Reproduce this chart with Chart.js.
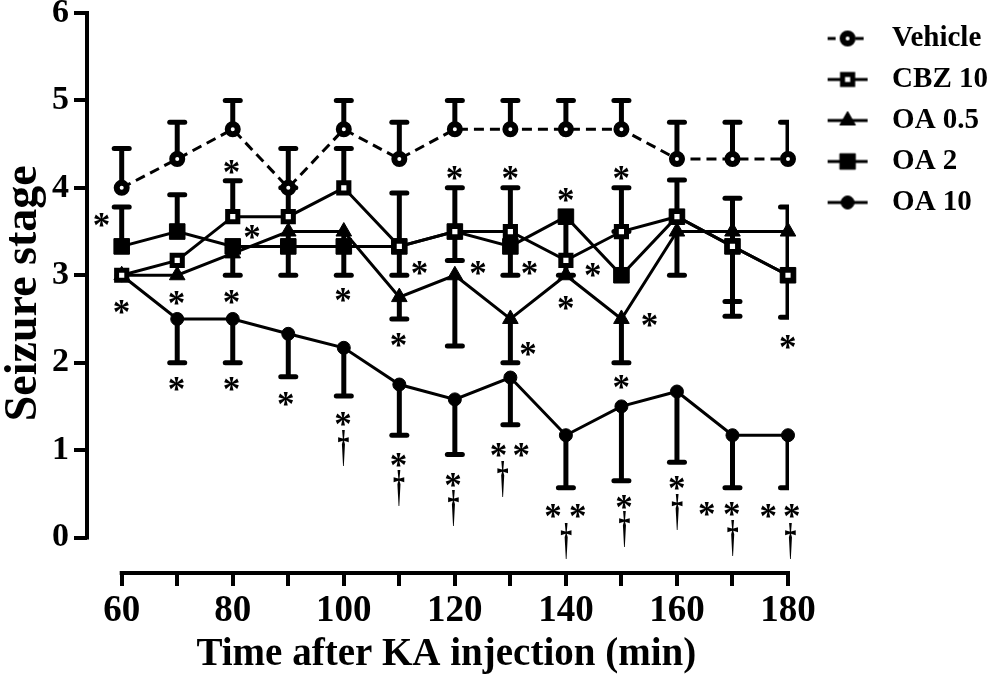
<!DOCTYPE html>
<html>
<head>
<meta charset="utf-8">
<script src="https://cdn.jsdelivr.net/npm/chart.js@4.4.1/dist/chart.umd.min.js"></script>
<style>
  html, body { margin: 0; padding: 0; background: #fff; }
  #wrap { width: 1000px; height: 676px; }
</style>
</head>
<body>
<div id="wrap"><canvas id="c" width="1000" height="676"></canvas></div>
<script>
// ---------------- data ----------------
const minutes = [60, 70, 80, 90, 100, 110, 120, 130, 140, 150, 160, 170, 180];

const vehicle     = [4.0, 4.33, 4.67, 4.0, 4.67, 4.33, 4.67, 4.67, 4.67, 4.67, 4.33, 4.33, 4.33];
const vehicleUp   = [0.45, 0.42, 0.33, 0.45, 0.33, 0.42, 0.33, 0.33, 0.33, 0.33, 0.42, 0.42, 0.42];

const cbz10       = [3.0, 3.17, 3.67, 3.67, 4.0, 3.33, 3.5, 3.5, 3.17, 3.5, 3.67, 3.33, 3.0];
const cbz10Up     = [0, 0, 0.41, 0.33, 0.45, 0.61, 0.5, 0.5, 0, 0.5, 0.42, 0.55, 0.78];
const cbz10Down   = [0, 0, 0, 0, 0, 0, 0, 0, 0, 0, 0, 0.8, 0];

const oa05        = [3.0, 3.0, 3.25, 3.5, 3.5, 2.75, 3.0, 2.5, 3.0, 2.5, 3.5, 3.5, 3.5];
const oa05Down    = [0, 0, 0.25, 0.5, 0.5, 0.25, 0.81, 0.5, 0, 0.5, 0.5, 0, 0];

const oa2         = [3.33, 3.5, 3.33, 3.33, 3.33, 3.33, 3.5, 3.33, 3.67, 3.0, 3.67, 3.33, 3.0];
const oa2Up       = [0.45, 0.42, 0, 0, 0, 0, 0, 0, 0, 0.5, 0, 0, 0];
const oa2Down     = [0, 0, 0, 0, 0, 0.33, 0.33, 0.33, 0.67, 0, 0, 0.63, 0.48];

const oa10        = [3.0, 2.5, 2.5, 2.33, 2.17, 1.75, 1.58, 1.83, 1.17, 1.5, 1.67, 1.17, 1.17];
const oa10Down    = [0, 0.5, 0.5, 0.49, 0.55, 0.58, 0.63, 0.54, 0.6, 0.85, 0.81, 0.6, 0.6];

const seriesNames = ['Vehicle', 'CBZ 10', 'OA 0.5', 'OA 2', 'OA 10'];

const xTickValues  = [60, 70, 80, 90, 100, 110, 120, 130, 140, 150, 160, 170, 180];
const xLabelValues = [60, 80, 100, 120, 140, 160, 180];
const yTickValues  = [0, 1, 2, 3, 4, 5, 6];

// significance marks: [minute, stage]
const starMarks = [
  [56.4, 3.63], [60.0, 2.64], [69.9, 2.74], [79.8, 4.24], [79.8, 2.75], [83.5, 3.50],
  [69.9, 1.76], [79.8, 1.76], [89.6, 1.58], [99.9, 2.77], [99.9, 1.35],
  [109.9, 2.26], [113.7, 3.08], [109.9, 0.89],
  [120.0, 4.17], [124.2, 3.08], [119.7, 0.66],
  [130.0, 4.17], [133.5, 3.08], [133.2, 2.16], [127.9, 1.00], [132.0, 1.00],
  [140.0, 3.92], [144.9, 3.06], [140.0, 2.68], [137.7, 0.30], [142.2, 0.30],
  [150.0, 4.17], [155.1, 2.49], [150.0, 1.78], [150.5, 0.41],
  [160.0, 0.62],
  [165.4, 0.33], [169.9, 0.33],
  [180.0, 2.24], [176.5, 0.30], [180.7, 0.30]
];
const daggerMarks = [
  [99.9, 1.03], [109.9, 0.57], [119.7, 0.34], [128.6, 0.68], [140.0, -0.03],
  [150.5, 0.10], [160.0, 0.30], [170.0, 0.0], [180.4, -0.04]
];

// ---------------- layout targets (pixel) ----------------
const X60PX = 121.7, X180PX = 788, Y0PX = 537.5, Y6PX = 13;
const FONT = '"Liberation Serif", "Times New Roman", serif';

const pts = arr => minutes.map((m, i) => ({ x: m, y: arr[i] }));

function dataset(label, arr, style, radius, bg, bw, dash) {
  return {
    label, data: pts(arr),
    borderColor: '#000', borderWidth: 3, borderDash: dash || [],
    pointStyle: style, pointRadius: radius, pointHoverRadius: radius,
    pointBackgroundColor: bg, pointBorderColor: '#000', pointBorderWidth: bw,
    tension: 0, fill: false
  };
}

const markerDefs = [
  { style: 'circle',   radius: 5,   bg: '#fff', bw: 6, dash: [10, 6] },
  { style: 'rect',     radius: 7.2, bg: '#fff', bw: 5 },
  { style: 'triangle', radius: 9,   bg: '#000', bw: 1 },
  { style: 'rect',     radius: 11,  bg: '#000', bw: 1 },
  { style: 'circle',   radius: 6.5, bg: '#000', bw: 1 }
];
const seriesData = [vehicle, cbz10, oa05, oa2, oa10];

const errorSets = [
  { mean: vehicle, up: vehicleUp, down: null },
  { mean: cbz10, up: cbz10Up, down: cbz10Down },
  { mean: oa05, up: null, down: oa05Down },
  { mean: oa2, up: oa2Up, down: oa2Down },
  { mean: oa10, up: null, down: oa10Down }
];

// marker drawing for legend samples
function drawMarker(g, m, cx, cy) {
  g.save();
  g.fillStyle = m.bg; g.strokeStyle = '#000'; g.lineWidth = m.bw; g.setLineDash([]);
  g.beginPath();
  if (m.style === 'circle') {
    g.arc(cx, cy, m.radius, 0, Math.PI * 2);
  } else if (m.style === 'rect') {
    const s = m.radius * Math.SQRT1_2;
    g.rect(cx - s, cy - s, 2 * s, 2 * s);
  } else {
    const r = m.radius;
    g.moveTo(cx, cy - r);
    g.lineTo(cx + r * Math.sin(2 * Math.PI / 3), cy - r * Math.cos(2 * Math.PI / 3));
    g.lineTo(cx + r * Math.sin(4 * Math.PI / 3), cy - r * Math.cos(4 * Math.PI / 3));
    g.closePath();
  }
  g.fill(); g.stroke();
  g.restore();
}
function legendSample(m) {
  const c = document.createElement('canvas');
  c.width = 42; c.height = 26;
  const g = c.getContext('2d');
  g.strokeStyle = '#000'; g.lineWidth = 3;
  g.setLineDash(m.dash ? [8, 6] : []);
  g.beginPath(); g.moveTo(1, 13); g.lineTo(41, 13); g.stroke();
  drawMarker(g, m, 21, 13);
  return c;
}
const samples = markerDefs.map(legendSample);

// error bars
const errorBarPlugin = {
  id: 'errorBars',
  beforeDatasetsDraw(chart) {
    const { ctx, chartArea } = chart;
    const x = chart.scales.x, y = chart.scales.y;
    const clipRight = x.getPixelForValue(180) + 1;
    ctx.save();
    ctx.beginPath();
    ctx.rect(chartArea.left, 0, clipRight - chartArea.left, chart.height);
    ctx.clip();
    ctx.strokeStyle = '#000';
    errorSets.forEach(s => {
      minutes.forEach((m, i) => {
        const px = x.getPixelForValue(m);
        const py = y.getPixelForValue(s.mean[i]);
        [[s.up, 1], [s.down, -1]].forEach(([arr, dir]) => {
          if (!arr || !arr[i]) return;
          const ey = y.getPixelForValue(s.mean[i] + dir * arr[i]);
          ctx.lineWidth = 5; ctx.lineCap = 'butt';
          ctx.beginPath(); ctx.moveTo(px, py); ctx.lineTo(px, ey); ctx.stroke();
          ctx.lineWidth = 5; ctx.lineCap = 'round';
          ctx.beginPath(); ctx.moveTo(px - 7.5, ey); ctx.lineTo(px + 7.5, ey); ctx.stroke();
        });
      });
    });
    ctx.restore();
  }
};

// axis lines (detached, Prism style)
const axisLinePlugin = {
  id: 'axisLines',
  afterDraw(chart) {
    const { ctx, chartArea } = chart;
    const x = chart.scales.x, y = chart.scales.y;
    ctx.save();
    ctx.strokeStyle = '#000'; ctx.lineWidth = 4; ctx.lineCap = 'square';
    ctx.beginPath();
    ctx.moveTo(x.getPixelForValue(xTickValues[0]), chartArea.bottom);
    ctx.lineTo(x.getPixelForValue(xTickValues[xTickValues.length - 1]), chartArea.bottom);
    ctx.moveTo(chartArea.left, y.getPixelForValue(yTickValues[0]));
    ctx.lineTo(chartArea.left, y.getPixelForValue(yTickValues[yTickValues.length - 1]));
    ctx.stroke();
    ctx.restore();
  }
};

function drawCentered(ctx, t, cx, cy, sx, sy) {
  const mt = ctx.measureText(t);
  const l = mt.actualBoundingBoxLeft, r = mt.actualBoundingBoxRight;
  const a = mt.actualBoundingBoxAscent, d = mt.actualBoundingBoxDescent;
  ctx.save();
  ctx.translate(cx, cy);
  ctx.scale(sx, sy);
  ctx.fillText(t, -(r - l) / 2, (a - d) / 2);
  ctx.restore();
}

const marksPlugin = {
  id: 'sigMarks',
  afterDatasetsDraw(chart) {
    const { ctx } = chart;
    const x = chart.scales.x, y = chart.scales.y;
    ctx.save();
    ctx.fillStyle = '#000';
    ctx.textAlign = 'left'; ctx.textBaseline = 'alphabetic';
    ctx.font = 'bold 35px ' + FONT;
    starMarks.forEach(([m, s]) => drawCentered(ctx, '*', x.getPixelForValue(m), y.getPixelForValue(s), 1, 1));
    ctx.font = 'bold 33px ' + FONT;
    daggerMarks.forEach(([m, s]) => drawCentered(ctx, '\u2020', x.getPixelForValue(m), y.getPixelForValue(s), 0.72, 1.35));
    ctx.restore();
  }
};

Chart.defaults.font.family = FONT;
Chart.defaults.color = '#000';

const chart = new Chart(document.getElementById('c'), {
  type: 'line',
  data: {
    datasets: seriesNames.map((n, i) => {
      const m = markerDefs[i];
      return dataset(n, seriesData[i], m.style, m.radius, m.bg, m.bw, m.dash);
    })
  },
  options: {
    responsive: false,
    animation: false,
    events: [],
    layout: { padding: { top: 12, right: 2, left: 0, bottom: 0 } },
    plugins: {
      tooltip: { enabled: false },
      legend: {
        position: 'right',
        align: 'start',
        labels: {
          usePointStyle: true,
          pointStyleWidth: 60,
          padding: 12,
          color: '#000',
          font: { family: FONT, size: 29, weight: 'bold' },
          generateLabels: () => seriesNames.map((n, i) => ({
            text: n, pointStyle: samples[i], fillStyle: '#000', strokeStyle: '#000',
            lineWidth: 0, hidden: false, datasetIndex: i, fontColor: '#000'
          }))
        }
      }
    },
    scales: {
      x: {
        type: 'linear',
        min: 53.75, max: 185,
        afterBuildTicks: s => { s.ticks = xTickValues.map(v => ({ value: v })); },
        afterFit: s => { s.height = 103; },
        border: { display: false },
        grid: { drawOnChartArea: false, drawTicks: true, tickLength: 13, lineWidth: 4, color: '#000' },
        ticks: {
          autoSkip: false, maxRotation: 0, padding: 3, color: '#000',
          font: { family: FONT, size: 37, weight: 'bold' },
          callback: v => xLabelValues.includes(v) ? String(v) : ''
        },
        title: {
          display: true, text: 'Time after KA injection (min)', color: '#000',
          font: { family: FONT, size: 39, weight: 'bold', lineHeight: 1 },
          padding: { top: 0, bottom: 2 }
        }
      },
      y: {
        type: 'linear',
        min: -0.406, max: 6.01,
        afterBuildTicks: s => { s.ticks = yTickValues.map(v => ({ value: v })); },
        afterFit: s => { s.width = 87; },
        border: { display: false },
        grid: { drawOnChartArea: false, drawTicks: true, tickLength: 13, lineWidth: 4, color: '#000' },
        ticks: {
          padding: 5, color: '#000',
          font: { family: FONT, size: 34, weight: 'bold', lineHeight: 0.5 },
          callback: v => String(v)
        },
        title: {
          display: true, text: 'Seizure stage', color: '#000',
          font: { family: FONT, size: 46, weight: 'bold', lineHeight: 1 },
          padding: { top: 1, bottom: 0 }
        }
      }
    }
  },
  plugins: [errorBarPlugin, marksPlugin, axisLinePlugin]
});

function calibrate() {
  const a = chart.chartArea;
  const xo = chart.options.scales.x, yo = chart.options.scales.y;
  const kx = (X180PX - X60PX) / 120;
  xo.min = 60 - (X60PX - a.left) / kx;
  xo.max = 180 + (a.right - X180PX) / kx;
  const ky = (Y0PX - Y6PX) / 6;
  yo.min = 0 - (a.bottom - Y0PX) / ky;
  yo.max = 6 + (Y6PX - a.top) / ky;
  chart.update('none');
}
calibrate();
calibrate();
</script>
</body>
</html>
